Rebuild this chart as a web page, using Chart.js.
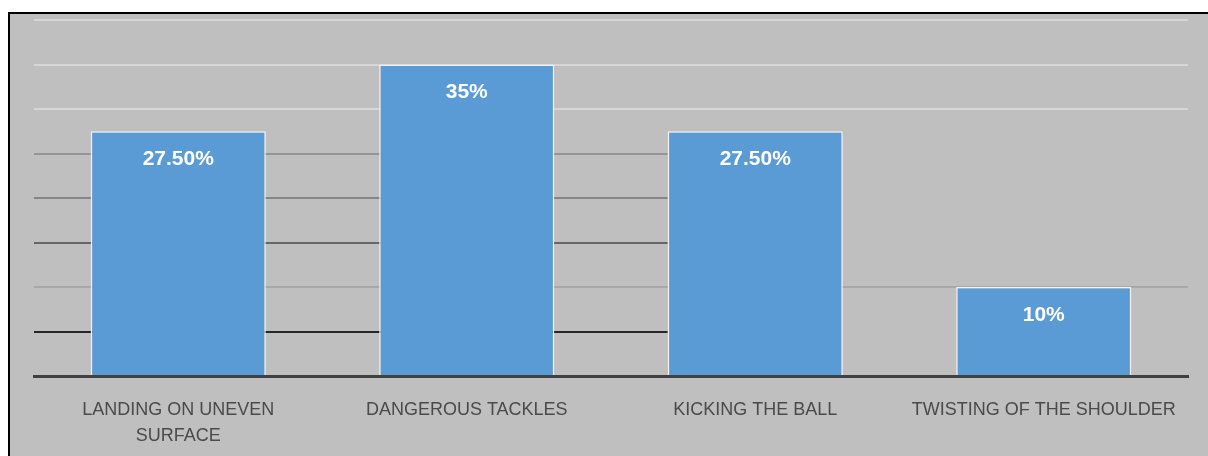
<!DOCTYPE html>
<html lang="en">
<head>
  <meta charset="UTF-8">
  <title>Causes of Shoulder Injury</title>
  <script src="https://cdn.jsdelivr.net/npm/chart.js"></script>
  <style>
    body { margin: 0; background: #fff; }
    .frame {
      position: absolute;
      left: 8px;
      top: 12px;
      width: 1198px;
      height: 442px;
      border-top: 2px solid #000;
      border-left: 2px solid #000;
      background: #bfbfbf;
    }
    canvas { display: block; }
  </style>
</head>
<body>

<div class="frame">
  <canvas id="injuryChart" width="1198" height="442"></canvas>
</div>

<script>
  // data
  const categories = [
    ["LANDING ON UNEVEN", "SURFACE"],
    "DANGEROUS TACKLES",
    "KICKING THE BALL",
    "TWISTING OF THE SHOULDER"
  ];
  const percentages = [27.5, 35, 27.5, 10];
  const yTicks = [0, 5, 10, 15, 20, 25, 30, 35, 40];
  const shortGridValues = [25, 20, 15, 5]; // these lines stop at the third bar

  const fmt = v => (v % 1 ? v.toFixed(2) : v) + '%';

  // full width gridlines
  const gridColor = {40: '#d6d6d6', 35: '#d6d6d6', 30: '#d6d6d6', 10: '#a8a8a8'};
  // gridlines that end at the third bar
  const shortGridColor = {25: '#959595', 20: '#858585', 15: '#666666', 5: '#262626'};

  const shortGrid = {
    id: 'shortGrid',
    beforeDatasetsDraw(chart) {
      const {ctx, chartArea, scales} = chart;
      const bar = chart.getDatasetMeta(0).data[2];
      const xEnd = bar.x - bar.width / 2;
      ctx.save();
      ctx.lineWidth = 2;
      shortGridValues.forEach(v => {
        const y = Math.round(scales.y.getPixelForValue(v));
        ctx.strokeStyle = shortGridColor[v];
        ctx.beginPath();
        ctx.moveTo(chartArea.left, y);
        ctx.lineTo(xEnd, y);
        ctx.stroke();
      });
      ctx.restore();
    }
  };

  const barLabels = {
    id: 'barLabels',
    afterDatasetsDraw(chart) {
      const ctx = chart.ctx;
      ctx.save();
      ctx.fillStyle = '#ffffff';
      ctx.font = 'bold 21px "Liberation Sans", Arial, sans-serif';
      ctx.textAlign = 'center';
      ctx.textBaseline = 'middle';
      chart.getDatasetMeta(0).data.forEach((bar, i) => {
        ctx.fillText(fmt(percentages[i]), bar.x, bar.y + 28);
      });
      ctx.restore();
    }
  };

  new Chart(document.getElementById('injuryChart'), {
    type: 'bar',
    data: {
      labels: categories,
      datasets: [{
        data: percentages,
        backgroundColor: '#5b9bd5',
        borderColor: '#f2f2f2',
        borderWidth: 1.5,
        barPercentage: 0.607,
        categoryPercentage: 1
      }]
    },
    options: {
      responsive: false,
      animation: false,
      layout: { padding: { left: 24, right: 20, top: 6, bottom: 0 } },
      scales: {
        x: {
          grid: { display: false },
          border: { display: true, color: '#404040', width: 3 },
          ticks: {
            color: '#4a4a4a',
            font: { family: '"Liberation Sans", Arial, sans-serif', size: 18, lineHeight: 1.45 },
            maxRotation: 0,
            autoSkip: false,
            padding: 13
          },
          afterFit: s => { s.height = 80; }
        },
        y: {
          min: 0,
          max: 40,
          afterBuildTicks: s => { s.ticks = yTicks.map(v => ({value: v})); },
          ticks: { display: false },
          border: { display: false },
          grid: {
            drawTicks: false,
            lineWidth: 2,
            color: c => gridColor[c.tick.value] || 'rgba(0,0,0,0)'
          },
          afterFit: s => { s.width = 0; }
        }
      },
      plugins: {
        legend: { display: false },
        tooltip: { enabled: false }
      }
    },
    plugins: [shortGrid, barLabels]
  });
</script>

</body>
</html>
